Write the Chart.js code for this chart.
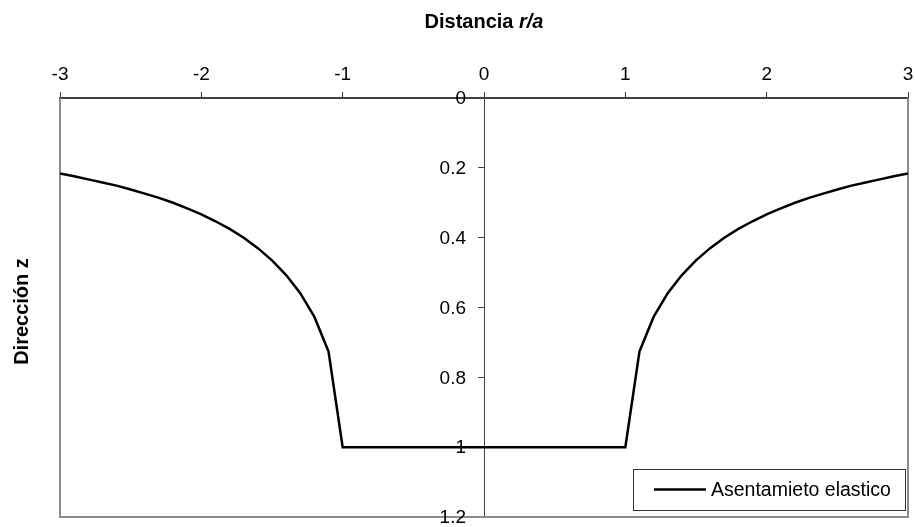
<!DOCTYPE html>
<html>
<head>
<meta charset="utf-8">
<script src="https://cdn.jsdelivr.net/npm/chart.js@4.4.1/dist/chart.umd.min.js"></script>
<style>
  html, body { margin: 0; padding: 0; background: #ffffff; }
  #wrap { width: 915px; height: 527px; }
</style>
</head>
<body>
<div id="wrap"><canvas id="c" width="915" height="527"></canvas></div>
<script>
// ---- Data ----
const seriesName = 'Asentamieto elastico';
const xTitleMain = 'Distancia ';
const xTitleItalic = 'r/a';
const yTitle = 'Dirección z';
const rValues = [-3.0, -2.9, -2.8, -2.7, -2.6, -2.5, -2.4, -2.3, -2.2, -2.1, -2.0, -1.9, -1.8, -1.7, -1.6, -1.5, -1.4, -1.3, -1.2, -1.1, -1.0,
                 1.0, 1.1, 1.2, 1.3, 1.4, 1.5, 1.6, 1.7, 1.8, 1.9, 2.0, 2.1, 2.2, 2.3, 2.4, 2.5, 2.6, 2.7, 2.8, 2.9, 3.0];
const zValues = [0.216, 0.224, 0.233, 0.242, 0.251, 0.262, 0.274, 0.286, 0.300, 0.316, 0.333, 0.353, 0.375, 0.400, 0.430, 0.465, 0.507, 0.559, 0.627, 0.726, 1.0,
                 1.0, 0.726, 0.627, 0.559, 0.507, 0.465, 0.430, 0.400, 0.375, 0.353, 0.333, 0.316, 0.300, 0.286, 0.274, 0.262, 0.251, 0.242, 0.233, 0.224, 0.216];
const xTicks = [-3, -2, -1, 0, 1, 2, 3];
const yTicks = [0, 0.2, 0.4, 0.6, 0.8, 1, 1.2];
const yTickLabels = ['0', '0.2', '0.4', '0.6', '0.8', '1', '1.2'];

const FONT = "'Liberation Sans', Arial, sans-serif";

const points = rValues.map((r, i) => ({ x: r, y: zValues[i] }));

const framePlugin = {
  id: 'frame',
  beforeDatasetsDraw(chart) {
    const { ctx, chartArea: a } = chart;
    ctx.save();
    ctx.strokeStyle = '#8c8c8c';
    ctx.lineWidth = 2;
    ctx.beginPath();
    ctx.moveTo(a.left, a.top);
    ctx.lineTo(a.left, a.bottom);
    ctx.lineTo(a.right, a.bottom);
    ctx.lineTo(a.right, a.top);
    ctx.stroke();
    ctx.restore();
  },
  afterDraw(chart) {
    const { ctx, chartArea: a } = chart;
    const xs = chart.scales.x, ys = chart.scales.y;
    ctx.save();
    // Y tick labels, placed left of the y axis (which sits at x = 0)
    ctx.fillStyle = '#000';
    ctx.font = "19px " + FONT;
    ctx.textAlign = 'right';
    ctx.textBaseline = 'middle';
    const axisX = xs.getPixelForValue(0);
    yTicks.forEach((v, i) => {
      ctx.fillText(yTickLabels[i], axisX - 18, ys.getPixelForValue(v) + 1);
    });
    // Top title with italic part
    ctx.textBaseline = 'middle';
    const f1 = "bold 20px " + FONT;
    const f2 = "italic bold 20px " + FONT;
    ctx.font = f1; const w1 = ctx.measureText(xTitleMain).width;
    ctx.font = f2; const w2 = ctx.measureText(xTitleItalic).width;
    const cx = (a.left + a.right) / 2;
    const x0 = cx - (w1 + w2) / 2;
    ctx.textAlign = 'left';
    ctx.font = f1; ctx.fillText(xTitleMain, x0, 22);
    ctx.font = f2; ctx.fillText(xTitleItalic, x0 + w1, 22);
    // Y title
    ctx.save();
    ctx.translate(22, (a.top + a.bottom) / 2 + 4);
    ctx.rotate(-Math.PI / 2);
    ctx.textAlign = 'center';
    ctx.font = f1;
    ctx.fillText(yTitle, 0, 0);
    ctx.restore();
    // Legend box
    const bx = a.right - 275, by = a.bottom - 48, bw = 272, bh = 41;
    ctx.fillStyle = '#fff';
    ctx.fillRect(bx, by, bw, bh);
    ctx.strokeStyle = '#333';
    ctx.lineWidth = 1;
    ctx.strokeRect(bx + 0.5, by + 0.5, bw, bh);
    const ly = by + bh / 2;
    ctx.strokeStyle = '#000';
    ctx.lineWidth = 2.5;
    ctx.beginPath();
    ctx.moveTo(bx + 21, ly);
    ctx.lineTo(bx + 73, ly);
    ctx.stroke();
    ctx.fillStyle = '#000';
    ctx.font = "19.5px " + FONT;
    ctx.textAlign = 'left';
    ctx.textBaseline = 'middle';
    ctx.fillText(seriesName, bx + 78, ly + 1);
    ctx.restore();
  }
};

new Chart(document.getElementById('c'), {
  type: 'scatter',
  data: {
    datasets: [{
      label: seriesName,
      data: points,
      showLine: true,
      borderColor: '#000',
      backgroundColor: '#000',
      borderWidth: 2.5,
      pointRadius: 0,
      tension: 0
    }]
  },
  options: {
    responsive: false,
    animation: false,
    layout: { padding: { left: 60, right: 7, top: 0, bottom: 10 } },
    plugins: { legend: { display: false }, tooltip: { enabled: false } },
    scales: {
      x: {
        type: 'linear',
        position: 'top',
        min: -3, max: 3,
        afterBuildTicks: (s) => { s.ticks = xTicks.map(v => ({ value: v })); },
        afterFit: (s) => { s.height = 98; s.paddingLeft = 0; s.paddingRight = 0; },
        ticks: { font: { family: FONT, size: 19 }, color: '#000', padding: 6, maxRotation: 0 },
        grid: { drawOnChartArea: false, drawTicks: true, tickLength: 6, color: '#404040', lineWidth: 1 },
        border: { color: '#404040', width: 2 }
      },
      y: {
        type: 'linear',
        position: { x: 0 },
        reverse: true,
        min: 0, max: 1.2,
        afterBuildTicks: (s) => { s.ticks = yTicks.map(v => ({ value: v })); },
        ticks: { display: false },
        grid: { drawOnChartArea: false, drawTicks: true, tickLength: 6, color: '#404040', lineWidth: 1 },
        border: { color: '#404040', width: 1 }
      }
    }
  },
  plugins: [framePlugin]
});
</script>
</body>
</html>
